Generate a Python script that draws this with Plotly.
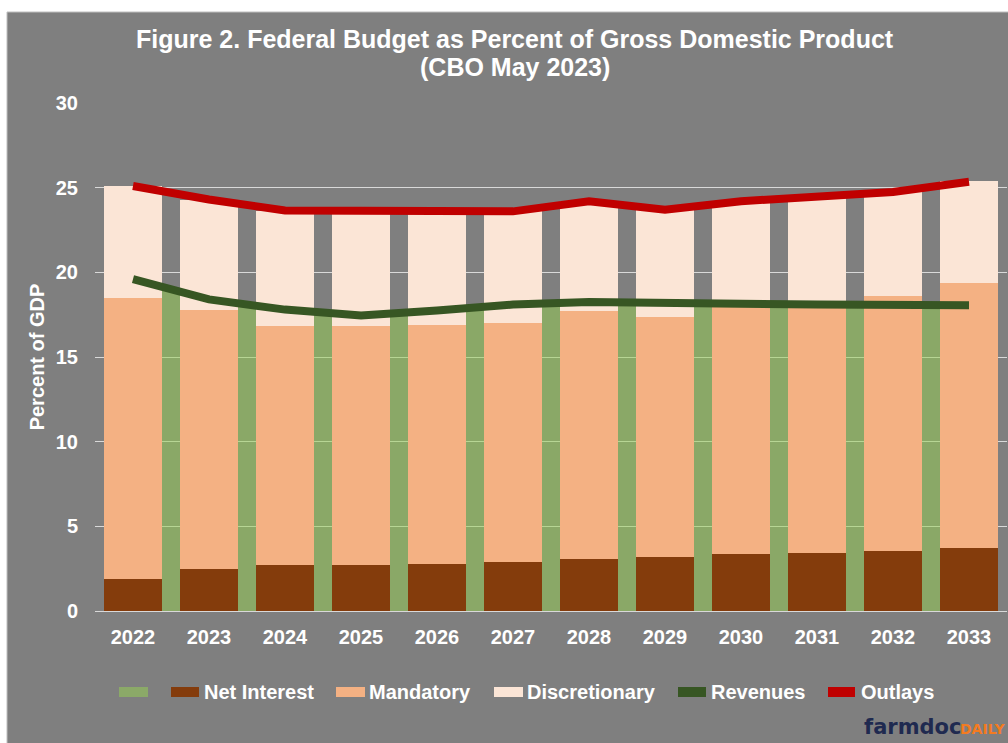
import plotly.graph_objects as go

# ---- data ----
years = ["2022", "2023", "2024", "2025", "2026", "2027", "2028", "2029", "2030", "2031", "2032", "2033"]
net_interest = [1.9, 2.5, 2.7, 2.7, 2.8, 2.9, 3.1, 3.2, 3.35, 3.45, 3.55, 3.7]
mandatory = [16.6, 15.25, 14.15, 14.15, 14.1, 14.1, 14.6, 14.15, 14.65, 14.55, 15.05, 15.65]
discretionary = [6.6, 6.5, 6.75, 6.75, 6.65, 6.6, 6.5, 6.35, 6.2, 6.4, 6.15, 6.05]
revenues = [19.6, 18.4, 17.8, 17.45, 17.75, 18.1, 18.25, 18.25, 18.15, 18.1, 18.05, 18.05]
outlays = [25.1, 24.3, 23.65, 23.6, 23.55, 23.6, 24.2, 23.7, 24.2, 24.45, 24.75, 25.35]
# green columns drawn between the years (tops hidden under the Revenues line)
green_cols = [19.0, 18.1, 17.6, 17.6, 17.9, 18.2, 18.25, 18.2, 18.1, 18.1, 18.05]

title_lines = ["Figure 2. Federal Budget as Percent of Gross Domestic Product", "(CBO May 2023)"]

idx = list(range(len(years)))
mid_idx = [i + 0.5 for i in range(len(green_cols))]

GRAY = "#7F7F7F"
C_NI = "#843C0C"
C_MAN = "#F4B183"
C_DIS = "#FBE5D6"
C_GREEN = "rgba(150,210,80,0.5)"
C_GREEN_SOLID = "#8BA968"
C_REV = "#375623"
C_OUT = "#C00000"
GRID = "#D9D9D9"
FONT = "Liberation Sans, Arial, sans-serif"

W, H = 1008, 743
L, R, T, B = 95, 1007, 103, 611


def px(x):
    return (x - L) / (R - L)


def py(y):
    return (B - y) / (B - T)


fig = go.Figure()
fig.add_trace(go.Bar(x=mid_idx, y=green_cols, width=0.237, marker=dict(color=C_GREEN, line=dict(width=0)),
                     name="", showlegend=False))
fig.add_trace(go.Bar(x=idx, y=net_interest, width=0.763, marker=dict(color=C_NI, line=dict(width=0)),
                     name="Net Interest", showlegend=False))
fig.add_trace(go.Bar(x=idx, y=mandatory, width=0.763, marker=dict(color=C_MAN, line=dict(width=0)),
                     name="Mandatory", showlegend=False))
fig.add_trace(go.Bar(x=idx, y=discretionary, width=0.763, marker=dict(color=C_DIS, line=dict(width=0)),
                     name="Discretionary", showlegend=False))
fig.add_trace(go.Scatter(x=idx, y=revenues, mode="lines", line=dict(color=C_REV, width=8),
                         name="Revenues", showlegend=False))
fig.add_trace(go.Scatter(x=idx, y=outlays, mode="lines", line=dict(color=C_OUT, width=8),
                         name="Outlays", showlegend=False))

shapes = [
    dict(type="rect", xref="paper", yref="paper", x0=px(7), x1=px(1012), y0=py(748), y1=py(12),
         fillcolor=GRAY, line=dict(color="#BFBFBF", width=1), layer="below"),
]

annotations = []
# title (two lines placed individually)
for text, yc in zip(title_lines, [38.5, 67]):
    annotations.append(dict(text=text, xref="paper", yref="paper", x=px(515), y=py(yc),
                            xanchor="center", yanchor="middle", showarrow=False,
                            font=dict(family=FONT, size=25, color="white", weight="bold")))

# custom legend (swatches + labels)
leg_y = 692
legend_items = [
    ("box", C_GREEN_SOLID, 119, 148, "", None),
    ("box", C_NI, 171, 199, "Net Interest", 202),
    ("box", C_MAN, 336, 365, "Mandatory", 367),
    ("box", C_DIS, 494, 523, "Discretionary", 525),
    ("line", C_REV, 678, 706, "Revenues", 709),
    ("line", C_OUT, 828, 855, "Outlays", 859),
]
for kind, col, x0, x1, label, tx in legend_items:
    if kind == "box":
        shapes.append(dict(type="rect", xref="paper", yref="paper", x0=px(x0), x1=px(x1),
                           y0=py(leg_y + 5), y1=py(leg_y - 5), fillcolor=col, line=dict(width=0),
                           layer="above"))
    else:
        shapes.append(dict(type="line", xref="paper", yref="paper", x0=px(x0), x1=px(x1),
                           y0=py(leg_y), y1=py(leg_y), line=dict(color=col, width=10), layer="above"))
    if label:
        annotations.append(dict(text=label, xref="paper", yref="paper", x=px(tx), y=py(leg_y),
                                xanchor="left", yanchor="middle", showarrow=False,
                                font=dict(family=FONT, size=20, color="white", weight="bold")))

# logo
annotations.append(dict(text="farmdoc", xref="paper", yref="paper", x=px(862), y=py(727),
                        xanchor="left", yanchor="middle", showarrow=False,
                        font=dict(family="DejaVu Sans, sans-serif", size=21, color="#1F2A50", weight="bold")))
annotations.append(dict(text="DAILY", xref="paper", yref="paper", x=px(958), y=py(729),
                        xanchor="left", yanchor="middle", showarrow=False,
                        font=dict(family="DejaVu Sans, sans-serif", size=14, color="#F47B20", weight="bold")))

fig.update_layout(
    width=W, height=H,
    margin=dict(l=L, r=W - R, t=T, b=H - B, pad=0),
    paper_bgcolor="white",
    plot_bgcolor=GRAY,
    barmode="stack",
    bargap=0,
    showlegend=False,
    xaxis=dict(range=[-0.5, 11.5], tickvals=idx, ticktext=years, showgrid=False, zeroline=False,
               showline=True, linecolor=GRID, linewidth=1, ticks="",
               tickfont=dict(family=FONT, size=20, color="white", weight="bold"),
               ticklabelstandoff=8),
    yaxis=dict(range=[0, 30], dtick=5, showgrid=True, gridcolor=GRID, gridwidth=1, zeroline=False,
               showline=False, ticks="",
               tickfont=dict(family=FONT, size=20, color="white", weight="bold"),
               ticklabelstandoff=16,
               title=dict(text="Percent of GDP", standoff=5,
                          font=dict(family=FONT, size=20, color="white", weight="bold"))),
    shapes=shapes,
    annotations=annotations,
)

fig.write_html("out.html", config={"displayModeBar": False},
               post_script="document.body.style.margin='0';document.body.style.overflow='hidden';")
